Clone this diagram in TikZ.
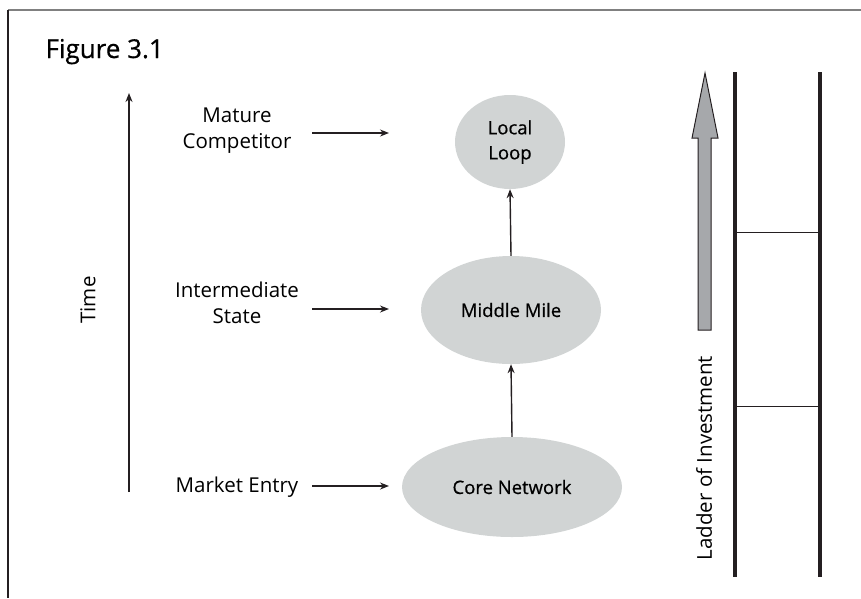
\documentclass[tikz,border=0pt]{standalone}
\usepackage{fontspec}
\setmainfont{Open Sans}
\newfontfamily\blobfont[FakeBold=0.6]{Open Sans}
\usetikzlibrary{shapes.geometric,arrows.meta}

\begin{document}
\begin{tikzpicture}[x=1pt,y=1pt,yscale=-1,xscale=1,
  lbl/.style={align=center, font=\fontsize{20.5}{26}\selectfont},
  blob/.style={ellipse, fill=mygray, inner sep=0pt, font=\blobfont\fontsize{18.5}{25}\selectfont, align=center},
  arr/.style={line width=1.4pt, -{Stealth[length=9pt,width=7pt]}}]

\definecolor{mygray}{rgb}{0.82, 0.83, 0.83}
\definecolor{mydark}{rgb}{0.14, 0.12, 0.13}
\definecolor{myarrow}{rgb}{0.65, 0.66, 0.67}

\useasboundingbox (0,0) rectangle (861,598);

% frame
\draw[gray, line width=1.5pt] (8,10) -- (861,10);
\draw[mydark, line width=1.5pt] (8,10) -- (8,598);

\node[anchor=base west, font=\blobfont\fontsize{26}{30}\selectfont] (title) at (42,58) {Figure 3.1};

% time axis
\coordinate (tbot) at (129,492);
\coordinate (ttop) at (129,93);
\draw[arr, mydark, line width=1.7pt] (tbot) -- (ttop);
\node[lbl, rotate=90] (time) at (88,300) {Time};

% stages
\node[lbl, anchor=base] (mature) at (237,148) {Mature\\Competitor};
\node[lbl, anchor=base] (interm) at (237,323) {Intermediate\\State};
\node[lbl, anchor=base] (entry) at (237,492) {Market Entry};

\node[blob, minimum width=110pt, minimum height=94pt] (local) at (510,142) {Local\\Loop};
\node[blob, minimum width=180pt, minimum height=108pt] (middle) at (511,310) {Middle Mile};
\node[blob, minimum width=220pt, minimum height=100pt] (core) at (512,487) {Core Network};

\coordinate (m1) at (312,133);
\coordinate (m2) at (389,133);
\coordinate (i1) at (312,309);
\coordinate (i2) at (389,309);
\coordinate (e1) at (312,486);
\coordinate (e2) at (389,486);
\draw[arr, mydark] (m1) -- (m2);
\draw[arr, mydark] (i1) -- (i2);
\draw[arr, mydark] (e1) -- (e2);

\draw[arr, mydark] (core.north) -- (middle.south);
\draw[arr, mydark] (middle.north) -- (local.south);

% ladder of investment
\draw[mydark, line width=1pt, fill=myarrow] (698,330) -- (698,138) -- (692,138) -- (705,73) -- (718,138) -- (711,138) -- (711,330) -- cycle;
\node[lbl, rotate=90] (ladder) at (704,458) {Ladder of Investment};

\draw[mydark, line width=3.5pt] (735,72) -- (735,577);
\draw[mydark, line width=3.5pt] (820,72) -- (820,577);
\draw[mydark, line width=1pt] (735,232) -- (820,232);
\draw[mydark, line width=1pt] (735,406) -- (820,406);

\end{tikzpicture}
\end{document}
